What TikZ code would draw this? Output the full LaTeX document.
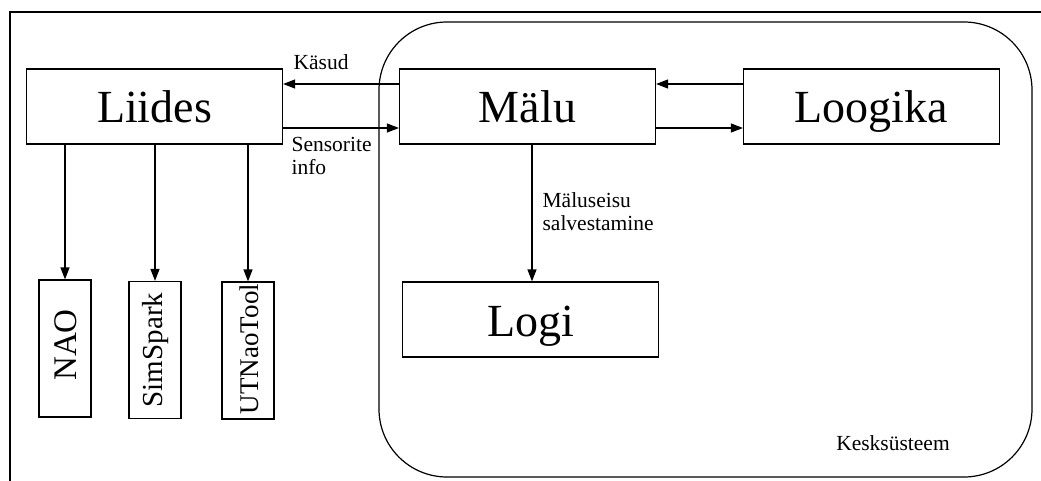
\documentclass[tikz,border=0pt]{standalone}
\usepackage{fontspec}
\setmainfont{Liberation Serif}
\usetikzlibrary{arrows.meta}
\begin{document}
\begin{tikzpicture}[x=1pt,y=-1pt,
  line width=1.2pt,
  bigbox/.style={draw, inner sep=0pt, minimum width=256pt, minimum height=75pt, text height=43pt, text depth=10pt, font=\fontsize{46}{50}\selectfont},
  smallbox/.style={draw, inner sep=0pt, minimum width=52pt, minimum height=137pt},
  vtext/.style={rotate=90, inner sep=0pt, anchor=center},
  arr/.style={-{Triangle[length=12pt,width=9pt]}},
  lbl/.style={inner sep=0pt, align=left, font=\fontsize{21.5}{23}\selectfont}]
\useasboundingbox (0,0) rectangle (1041,481);
% outer frame (cropped)
\draw (10,481) -- (10,12) -- (1041,12);
% big rounded container
\draw[rounded corners=68pt] (379,22) rectangle (1032,477);
\node[lbl, anchor=center] (kesk) at (893,443) {Kesksüsteem};
% main boxes
\node[bigbox] (liides) at (154.5,106.5) {Liides};
\node[bigbox] (malu) at (527.5,106.5) {Mälu};
\node[bigbox] (loogika) at (871.5,106.5) {Loogika};
\node[bigbox] (logi) at (530.5,319.5) {Logi};
% small boxes
\node[smallbox] (nao) at (65,348.5) {};
\node[smallbox] (sim) at (155,350) {};
\node[smallbox] (utn) at (248,350.5) {};
\node[vtext, font=\fontsize{33}{36}\selectfont] (naot) at (66,345) {NAO};
\node[vtext, font=\fontsize{29}{32}\selectfont] (simt) at (156,350) {SimSpark};
\node[vtext, font=\fontsize{27}{30}\selectfont] (utnt) at (249,349) {UTNaoTool};
% arrows Liides -> small boxes
\draw[arr] (nao.north |- liides.south) -- (nao.north);
\draw[arr] (sim.north |- liides.south) -- (sim.north);
\draw[arr] (utn.north |- liides.south) -- (utn.north);
% Liides <-> Mälu
\draw[arr] (malu.west |- 0,84) -- (liides.east |- 0,84);
\draw[arr] (liides.east |- 0,128) -- (malu.west |- 0,128);
\node[lbl, anchor=west] (kasud) at (293,62) {Käsud};
\node[lbl, anchor=west] (sens) at (291,156) {Sensorite\\info};
% Mälu <-> Loogika
\draw[arr] (loogika.west |- 0,84) -- (malu.east |- 0,84);
\draw[arr] (malu.east |- 0,128) -- (loogika.west |- 0,128);
% Mälu -> Logi
\draw[arr] (malu.south -| 532,0) -- (logi.north -| 532,0);
\node[lbl, anchor=west] (salv) at (542,212) {Mäluseisu\\salvestamine};
\end{tikzpicture}
\end{document}
